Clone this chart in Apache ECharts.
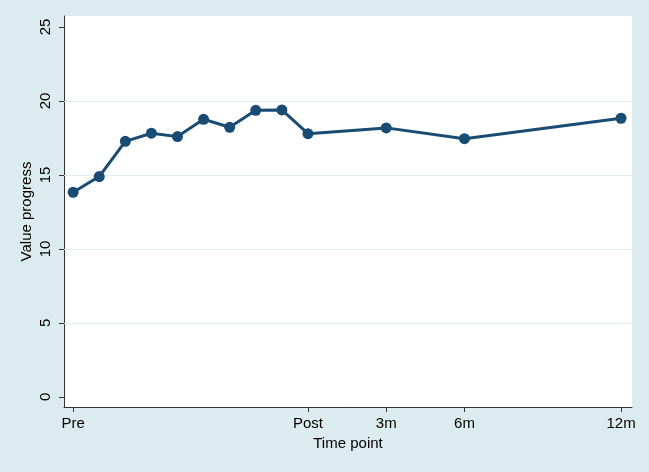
<!DOCTYPE html>
<html>
<head>
<meta charset="utf-8">
<script src="https://cdn.jsdelivr.net/npm/echarts@6/dist/echarts.min.js"></script>
<style>
html,body{margin:0;padding:0;background:#dcebf0;}
#chart{width:649px;height:472px;}
</style>
</head>
<body>
<div id="chart"></div>
<script>
// Time positions (x) and values
const timeX = [0, 1, 2, 3, 4, 5, 6, 7, 8, 9, 12, 15, 21];
const values = [13.83, 14.89, 17.27, 17.82, 17.59, 18.76, 18.22, 19.37, 19.39, 17.79, 18.18, 17.45, 18.83];
const tickPos = [0, 9, 12, 15, 21];
const tickLabels = ['Pre', 'Post', '3m', '6m', '12m'];
const yTicks = [0, 5, 10, 15, 20, 25];

const labelMap = {};
tickPos.forEach((p, i) => labelMap[p] = tickLabels[i]);

const chart = echarts.init(document.getElementById('chart'));
const font = 'Liberation Sans, Arial, Helvetica, sans-serif';
chart.setOption({
  backgroundColor: '#dcebf0',
  animation: false,
  grid: {
    left: 64, right: 17, top: 16, bottom: 65,
    show: true, backgroundColor: '#ffffff', borderWidth: 0
  },
  xAxis: {
    type: 'value',
    min: -0.35, max: 21.42,
    name: 'Time point', nameLocation: 'middle', nameGap: 27,
    nameTextStyle: { fontFamily: font, fontSize: 15, color: '#000' },
    axisLine: { show: true, onZero: false, lineStyle: { color: '#333', width: 1 } },
    axisTick: { show: true, length: 5, lineStyle: { color: '#333' }, customValues: tickPos },
    axisLabel: {
      customValues: tickPos, margin: 9,
      fontFamily: font, fontSize: 15, color: '#000',
      formatter: v => labelMap[v] || ''
    },
    splitLine: { show: false }
  },
  yAxis: {
    type: 'value',
    min: -0.68, max: 25.74,
    name: 'Value progress', nameLocation: 'middle', nameGap: 30,
    nameMoveOverlap: false,
    nameTextStyle: { fontFamily: font, fontSize: 15, color: '#000' },
    axisLine: { show: true, onZero: false, lineStyle: { color: '#333', width: 1 } },
    axisTick: { show: true, length: 5, lineStyle: { color: '#333' }, customValues: yTicks },
    axisLabel: {
      customValues: yTicks, rotate: 90, margin: 11,
      fontFamily: font, fontSize: 15, color: '#000'
    },
    splitLine: { show: false }
  },
  series: [{
    type: 'line',
    data: timeX.map((x, i) => [x, values[i]]),
    symbol: 'circle', symbolSize: 11,
    itemStyle: { color: '#1a4b73' },
    lineStyle: { color: '#1a4b73', width: 3 },
    markLine: {
      silent: true, symbol: 'none', label: { show: false },
      lineStyle: { color: '#e0eef3', width: 1, type: 'solid' },
      data: [{ yAxis: 5 }, { yAxis: 10 }, { yAxis: 15 }, { yAxis: 20 }],
      z: 1
    }
  }]
});
</script>
</body>
</html>
